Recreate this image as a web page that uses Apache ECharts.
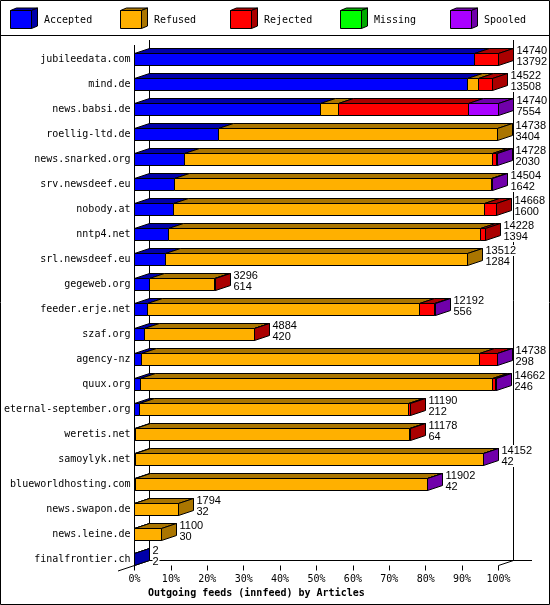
<!DOCTYPE html>
<html><head><meta charset="utf-8">
<style>html,body{margin:0;padding:0;background:#fff}#c{width:550px;height:605px}</style>
<script src="https://cdn.jsdelivr.net/npm/echarts@6/dist/echarts.min.js"></script>
</head><body><div id="c"></div>
<script>
const hosts = ['jubileedata.com','mind.de','news.babsi.de','roellig-ltd.de','news.snarked.org','srv.newsdeef.eu','nobody.at','nntp4.net','srl.newsdeef.eu','gegeweb.org','feeder.erje.net','szaf.org','agency-nz','quux.org','eternal-september.org','weretis.net','samoylyk.net','blueworldhosting.com','news.swapon.de','news.leine.de','finalfrontier.ch'];
const totals   = [14740,14522,14740,14738,14728,14504,14668,14228,13512,3296,12192,4884,14738,14662,11190,11178,14152,11902,1794,1100,2];
const accepted = [13792,13508,7554,3404,2030,1642,1600,1394,1284,614,556,420,298,246,212,64,42,42,32,30,2];
const refused  = [0,430,708,11334,12482,12842,12606,12651,12228,2642,11022,4449,13707,14286,10918,11099,14098,11848,1762,1070,0];
const rejected = [948,584,5298,0,186,0,462,183,0,40,600,15,713,110,60,15,0,0,0,0,0];
const missing  = [0,0,0,0,0,0,0,0,0,0,0,0,0,0,0,0,0,0,0,0,0];
const spooled  = [0,0,1180,0,30,20,0,0,0,0,14,0,20,20,0,0,12,12,0,0,0];
const seriesNames = ['Accepted','Refused','Rejected','Missing','Spooled'];
const seriesValues = [accepted,refused,rejected,missing,spooled];
const faceColors = ['#0000FF','#FFB000','#FF0000','#00FF00','#AA00FF'];
const shadeColors = ['#0000AA','#AA7500','#AA0000','#00AA00','#7000AA'];
const maxTotal = 14740;

const MONO = '"DejaVu Sans Mono","Liberation Mono",monospace';
const DX = 15, DY = 5, HALF = 6;
const snap = v => Math.floor(v - 0.5) + 0.5;
const stroke = {stroke:'#000', lineWidth:1};

function renderRow(params, api) {
  const row = api.value(0);
  const cy = Math.round(api.coord([0, row])[1] - 0.5) + 0.5;
  const top = cy - HALF, bottom = cy + HALF;
  const faces = [], tops = [];
  let sum = 0, x0 = snap(api.coord([0, row])[0] + 0.5), lastShade = null;
  for (let s = 0; s < seriesValues.length; s++) {
    const v = api.value(s + 1);
    if (!v) continue;
    sum += v;
    const x1 = snap(api.coord([sum / maxTotal * 100, row])[0]);
    tops.push({type:'polygon', shape:{points:[[x0,top],[x1,top],[x1+DX,top-DY],[x0+DX,top-DY]]},
      style:{fill:shadeColors[s], ...stroke}});
    faces.push({type:'rect', shape:{x:x0,y:top,width:x1-x0,height:bottom-top},
      style:{fill:faceColors[s], ...stroke}});
    lastShade = shadeColors[s];
    x0 = x1;
  }
  const side = {type:'polygon', shape:{points:[[x0,top],[x0+DX,top-DY],[x0+DX,bottom-DY],[x0,bottom]]},
    style:{fill:lastShade, ...stroke}};
  const labelX = x0 + 18;
  const lines = [String(totals[params.dataIndex]), String(accepted[params.dataIndex])];
  const labels = [];
  lines.forEach((t, i) => {
    const ly = cy + (i === 0 ? -9 : 2);
    labels.push({type:'rect', shape:{x:labelX,y:ly-5.5,width:t.length*6+1,height:11}, style:{fill:'#fff'}});
    labels.push({type:'text', style:{text:t,x:labelX,y:ly,fill:'#000',font:'11px "Liberation Sans",sans-serif',textAlign:'left',textVerticalAlign:'middle'}});
  });
  return {type:'group', children:[...labels, ...tops, ...faces, side]};
}

function line(x1,y1,x2,y2){
  return {type:'line', silent:true, z:0, shape:{x1,y1,x2,y2}, style:{stroke:'#000',lineWidth:1}};
}
const graphics = [
  {type:'rect', silent:true, z:0, shape:{x:0.5,y:0.5,width:549,height:604}, style:{fill:'none',stroke:'#000',lineWidth:1}},
  line(0,35.5,550,35.5),
  line(134.5,45,134.5,565.5),
  line(149.5,40,149.5,560.5),
  line(513.5,40,513.5,560.5),
  line(149.5,560.5,532,560.5),
  line(118,571,149.5,560.5),
  line(498.5,565.5,513.5,560.5)
];
seriesNames.forEach((name,i)=>{
  const x = 10.5 + i*110, y = 10.5, w = 21, h = 18, dx = 6, dy = 2.5;
  graphics.push(
    {type:'polygon',silent:true,z:5,shape:{points:[[x,y],[x+w,y],[x+w+dx,y-dy],[x+dx,y-dy]]},style:{fill:shadeColors[i],...stroke}},
    {type:'polygon',silent:true,z:5,shape:{points:[[x+w,y],[x+w+dx,y-dy],[x+w+dx,y+h-dy],[x+w,y+h]]},style:{fill:shadeColors[i],...stroke}},
    {type:'rect',silent:true,z:5,shape:{x,y,width:w,height:h},style:{fill:faceColors[i],...stroke}},
    {type:'text',silent:true,z:5,style:{text:name,x:x+33.5,y:20,fill:'#000',font:'10px '+MONO,textAlign:'left',textVerticalAlign:'middle'}}
  );
});

const chart = echarts.init(document.getElementById('c'), null, {renderer:'canvas', width:550, height:605});
chart.setOption({
  animation:false,
  backgroundColor:'#fff',
  title:{text:'Outgoing feeds (innfeed) by Articles', left:148, top:587, padding:0,
    textStyle:{fontFamily:MONO, fontSize:10, fontWeight:'bold', color:'#000', lineHeight:12}},
  grid:{left:134.5, width:364, top:46.5, height:525, containLabel:false},
  xAxis:{type:'value', min:0, max:100, interval:10, offset:-6,
    axisLine:{show:false},
    axisTick:{show:true, length:5, lineStyle:{color:'#000',width:1}},
    splitLine:{show:false},
    axisLabel:{formatter:'{value}%', fontFamily:MONO, fontSize:10, color:'#000', margin:9, showMinLabel:true, showMaxLabel:true, hideOverlap:false}},
  yAxis:{type:'category', inverse:true, data:hosts,
    axisLine:{show:false}, axisTick:{show:false}, splitLine:{show:false},
    axisLabel:{fontFamily:MONO, fontSize:10, color:'#000', margin:4, interval:0}},
  series:[{
    type:'custom', z:2, silent:true, clip:false,
    coordinateSystem:'cartesian2d',
    renderItem:renderRow,
    encode:{x:-1,y:0},
    data:hosts.map((h,i)=>[i,...seriesValues.map(a=>a[i])])
  }],
  graphic:graphics
});
</script></body></html>
